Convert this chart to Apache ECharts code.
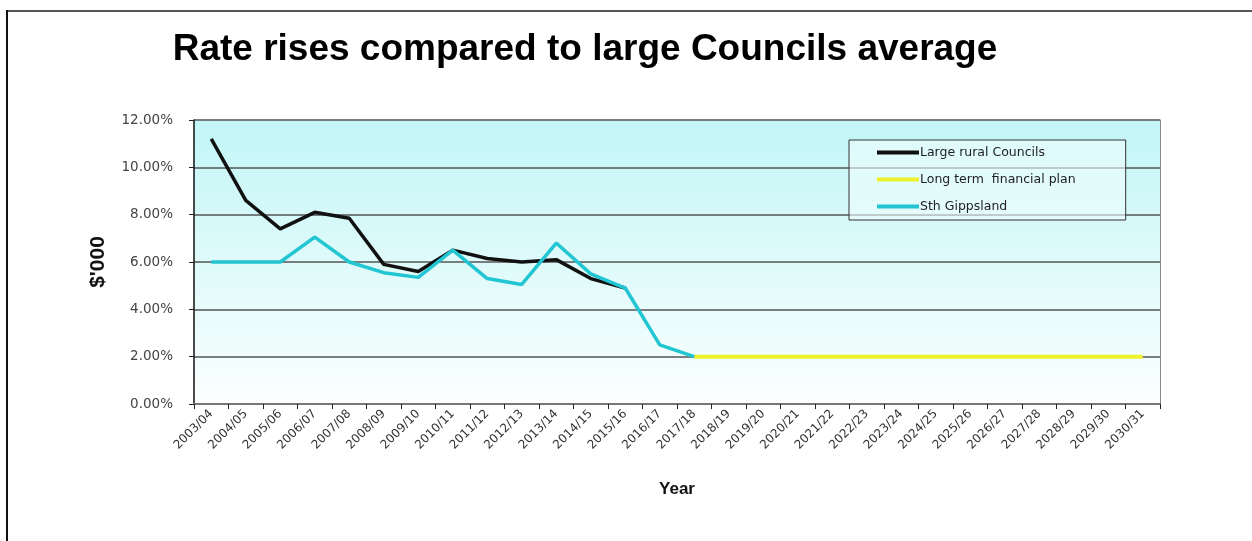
<!DOCTYPE html>
<html>
<head>
<meta charset="utf-8">
<script src="https://cdn.jsdelivr.net/npm/echarts@6/dist/echarts.min.js"></script>
<style>
html,body{margin:0;padding:0;background:#fff;}
#c{width:1252px;height:541px;}
</style>
</head>
<body>
<div id="c"></div>
<script>
const categories = ['2003/04','2004/05','2005/06','2006/07','2007/08','2008/09','2009/10','2010/11','2011/12','2012/13','2013/14','2014/15','2015/16','2016/17','2017/18','2018/19','2019/20','2020/21','2021/22','2022/23','2023/24','2024/25','2025/26','2026/27','2027/28','2028/29','2029/30','2030/31'];
const largeRural = [11.2, 8.6, 7.4, 8.1, 7.85, 5.9, 5.6, 6.5, 6.15, 6.0, 6.1, 5.3, 4.9];
const longTermPlan = [null,null,null,null,null,null,null,null,null,null,null,null,null,null, 2.0,2.0,2.0,2.0,2.0,2.0,2.0,2.0,2.0,2.0,2.0,2.0,2.0,2.0];
const sthGippsland = [6.0, 6.0, 6.0, 7.05, 6.0, 5.55, 5.35, 6.5, 5.3, 5.05, 6.8, 5.5, 4.9, 2.5, 2.0];
const yTicks = [0, 2, 4, 6, 8, 10, 12];

const chart = echarts.init(document.getElementById('c'));
chart.setOption({
  animation: false,
  backgroundColor: '#fff',
  title: {
    text: 'Rate rises compared to large Councils average',
    left: 580, top: 26, textAlign: 'center',
    textStyle: {fontFamily: 'Liberation Sans, Arial', fontWeight: 'bold', fontSize: 37, color: '#000'}
  },
  graphic: [
    {type: 'line', shape: {x1: 7, y1: 11, x2: 1252, y2: 11}, style: {stroke: '#555', lineWidth: 2}},
    {type: 'line', shape: {x1: 7, y1: 10, x2: 7, y2: 541}, style: {stroke: '#111', lineWidth: 2}}
  ],
  grid: {
    left: 194, right: 92, top: 120, bottom: 137,
    show: true,
    borderWidth: 0,
    backgroundColor: new echarts.graphic.LinearGradient(0, 0, 0, 1, [
      {offset: 0, color: '#c2f6f7'},
      {offset: 0.5, color: '#dffafa'},
      {offset: 1, color: '#fcffff'}
    ])
  },
  legend: {
    orient: 'vertical',
    left: 849, top: 140,
    padding: [6, 50, 7, 28],
    itemGap: 14,
    itemWidth: 42, itemHeight: 4,
    backgroundColor: 'rgba(240,253,253,0.6)',
    borderColor: '#333', borderWidth: 1,
    icon: 'rect',
    textStyle: {fontFamily: 'DejaVu Sans', fontSize: 12.5, color: '#222', padding: [0,0,0,-4]},
    data: ['Large rural Councils', 'Long term  financial plan', 'Sth Gippsland']
  },
  xAxis: {
    type: 'category',
    data: categories,
    boundaryGap: true,
    name: 'Year',
    nameLocation: 'middle',
    nameGap: 77,
    nameTextStyle: {fontFamily: 'Liberation Sans, Arial', fontWeight: 'bold', fontSize: 17, color: '#111'},
    axisLine: {show: true, lineStyle: {color: '#777', width: 2}},
    axisTick: {show: true, alignWithLabel: false, length: 5, lineStyle: {color: '#222'}},
    axisLabel: {rotate: 45, interval: 0, fontFamily: 'DejaVu Sans', fontSize: 12, color: '#333', margin: 8},
    splitLine: {show: false}
  },
  yAxis: [{
    type: 'value',
    min: 0, max: 12, interval: 2,
    name: "$'000",
    nameLocation: 'middle',
    nameGap: 85,
    nameRotate: 90,
    nameTextStyle: {fontFamily: 'Liberation Sans, Arial', fontWeight: 'bold', fontSize: 21, color: '#111'},
    axisLine: {show: true, lineStyle: {color: '#111', width: 1.5}},
    axisTick: {show: true, length: 5, lineStyle: {color: '#222'}},
    axisLabel: {
      fontFamily: 'DejaVu Sans', fontSize: 13.5, color: '#444', margin: 21,
      formatter: v => yTicks.includes(v) ? v.toFixed(2) + '%' : ''
    },
    splitLine: {show: true, lineStyle: {color: '#555', width: 1.5}}
  }, {
    type: 'value', min: 0, max: 12, interval: 2, position: 'right',
    axisLine: {show: true, lineStyle: {color: '#888', width: 1}},
    axisTick: {show: false}, axisLabel: {show: false}, splitLine: {show: false}
  }],
  series: [
    {name: 'Large rural Councils', type: 'line', data: largeRural, symbol: 'none',
     lineStyle: {color: '#111', width: 3.5}, itemStyle: {color: '#111'}, z: 3},
    {name: 'Long term  financial plan', type: 'line', data: longTermPlan, symbol: 'none',
     lineStyle: {color: '#eef22a', width: 4}, itemStyle: {color: '#eef22a'}, z: 2},
    {name: 'Sth Gippsland', type: 'line', data: sthGippsland, symbol: 'none',
     lineStyle: {color: '#22c6d2', width: 3.5}, itemStyle: {color: '#22c6d2'}, z: 4}
  ]
});
</script>
</body>
</html>
